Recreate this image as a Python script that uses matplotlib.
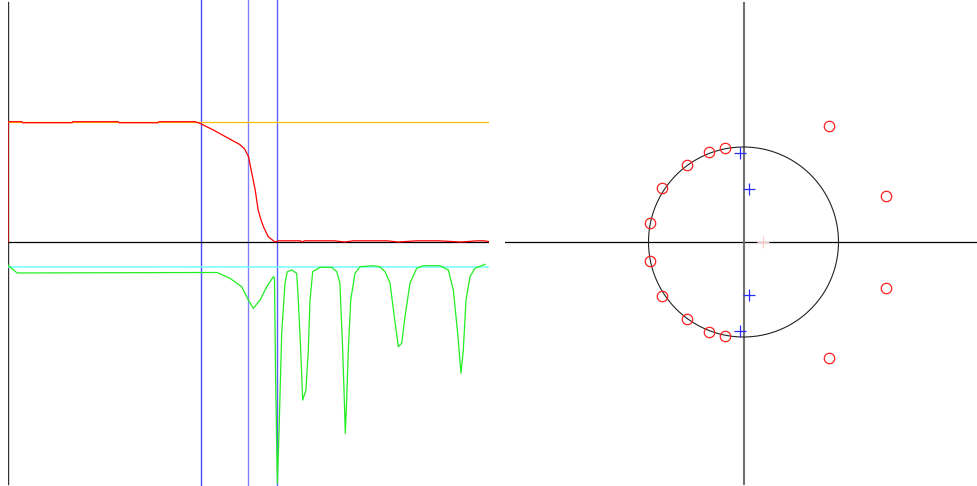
import numpy as np
import matplotlib
matplotlib.use("Agg")
import matplotlib.pyplot as plt

# --- frequency response (normalized frequency 0..1) ---
mag_freq = [0.0, 0.0, 0.029, 0.031, 0.133, 0.135, 0.229, 0.231, 0.312, 0.314, 0.389,
            0.399, 0.427, 0.462, 0.482, 0.492, 0.500, 0.507, 0.514, 0.520, 0.526, 0.531,
            0.541, 0.555,
            0.563, 0.608, 0.612, 0.616, 0.678, 0.700, 0.718, 0.788, 0.811, 0.850, 0.895,
            0.942, 0.975, 0.990, 1.000]
mag_vals = [0.0, 1.0025, 1.0025, 0.994, 0.994, 1.0025, 1.0025, 0.994, 0.994, 1.0025, 1.0025,
            0.989, 0.933, 0.856, 0.812, 0.775, 0.711, 0.572, 0.433, 0.267, 0.185, 0.128,
            0.044, 0.0,
            0.01, 0.01, 0.0, 0.01, 0.01, 0.0, 0.01, 0.01, 0.0, 0.01, 0.01,
            0.0, 0.01, 0.01, 0.003]

db_freq = [0.0, 0.0187, 0.4345, 0.4615, 0.4859, 0.4996, 0.510, 0.524, 0.538, 0.5516, 0.554,
           0.5565, 0.560, 0.5634, 0.569, 0.5759, 0.5807, 0.5898, 0.6002, 0.6035, 0.6085,
           0.6127, 0.6195, 0.6243, 0.6279, 0.6335, 0.6486, 0.673, 0.6834, 0.690, 0.6958,
           0.6992, 0.7012, 0.7041, 0.7075, 0.7125, 0.7214, 0.7318, 0.7595, 0.7734, 0.7838,
           0.7942, 0.8031, 0.8115, 0.8185, 0.8254, 0.8358, 0.8497, 0.8634, 0.8981, 0.9154,
           0.9258, 0.9349, 0.9418, 0.9466, 0.9522, 0.9605, 0.9709, 0.9917]
db_vals = [-0.192, -0.258, -0.254, -0.3025, -0.3725, -0.483, -0.553, -0.483, -0.3725, -0.289, -0.30,
           -1.175, -2.01, -1.592, -0.758, -0.342, -0.2475, -0.233, -0.261, -0.483, -0.9,
           -1.317, -1.233, -0.9, -0.483, -0.2475, -0.211, -0.211, -0.2475, -0.342, -0.9,
           -1.317, -1.594, -1.317, -0.9, -0.483, -0.261, -0.206, -0.1975, -0.206, -0.2475,
           -0.342, -0.6225, -0.8725, -0.844, -0.6225, -0.342, -0.219, -0.1975, -0.1975, -0.233,
           -0.4, -0.761, -1.094, -0.9, -0.483, -0.289, -0.219, -0.186]

target_mag = 1.0
target_db = -0.211
band_edges = [0.4012, 0.499, 0.5593]
band_colors = ["#4848ff", "#8080ff", "#5c5cff"]

# --- pole / zero plot ---
zeros_re = [-0.20, -0.36, -0.60, -0.86, -0.98, -0.98, -0.86, -0.60, -0.36, -0.20,
            0.90, 1.50, 1.50, 0.90]
zeros_im = [0.985, 0.948, 0.815, 0.568, 0.20, -0.20, -0.568, -0.815, -0.948, -0.985,
            1.226, 0.485, -0.485, -1.226]
poles_re = [-0.037, 0.055, 0.055, -0.037]
poles_im = [0.942, 0.56, -0.56, -0.942]
extra_re = [0.21]
extra_im = [0.0]


def main():
    W, H = 977, 486
    fig = plt.figure(figsize=(W / 100, H / 100), dpi=100)

    # left: response, 120 px per unit, zero line at 242 px from top
    ax1 = fig.add_axes([8 / W, 0, 481 / W, 1])
    ax1.set_xlim(0, 1)
    ax1.set_ylim(-244 / 120, 242 / 120)
    ax1.axis("off")
    ax1.plot([0, 0], [2.0, -2.017], color="#333333", lw=1.0, zorder=1)
    for f, c in zip(band_edges, band_colors):
        ax1.axvline(f, color=c, lw=1.0, zorder=1)
    ax1.plot([0, 1], [target_mag, target_mag], color="#ffc000", lw=0.9, zorder=2)
    ax1.plot([0, 1], [target_db, target_db], color="#70ffff", lw=1.1, zorder=2)
    ax1.plot(mag_freq, mag_vals, color="#ff0000", lw=0.9, zorder=3)
    ax1.plot([0, 1], [0, 0], color="black", lw=0.9, zorder=2)
    ax1.plot(db_freq, db_vals, color="#22ee22", lw=0.9, zorder=3)

    # right: z-plane, 95 px per unit, origin at (743.5, 242)
    ax2 = fig.add_axes([505 / W, 0, 472 / W, 1])
    ax2.set_xlim(-238.5 / 95, 233.5 / 95)
    ax2.set_ylim(-244 / 95, 242 / 95)
    ax2.axis("off")
    ax2.plot([-238.5 / 95, 233.5 / 95], [0, 0], color="black", lw=0.9)
    ax2.plot([0, 0], [239 / 95, -242 / 95], color="#707070", lw=1.5)
    t = np.linspace(0, 2 * np.pi, 400)
    ax2.plot(np.cos(t), np.sin(t), color="#222222", lw=0.8)
    ax2.plot(zeros_re, zeros_im, "o", ms=7.5, mfc="none", mec="#ff2020", mew=0.9)
    ax2.plot(poles_re, poles_im, "+", ms=8, color="#2a2aff", mew=0.9)
    ax2.plot(extra_re, extra_im, "+", ms=8, color="#ffc8c8", mew=0.8)

    fig.savefig("out.png", dpi=100)


if __name__ == "__main__":
    main()
